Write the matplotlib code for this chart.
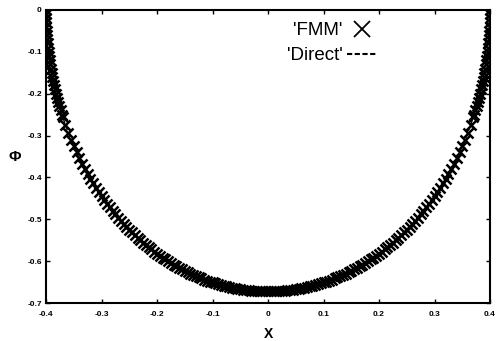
import matplotlib
matplotlib.use("Agg")
import matplotlib.pyplot as plt
from matplotlib.lines import Line2D

# Values (right half; curve is symmetric about x = 0)
x_half = [0.000, 0.005, 0.010, 0.015, 0.020, 0.025, 0.030, 0.035, 0.040, 0.045,
          0.050, 0.055, 0.060, 0.065, 0.070, 0.075, 0.080, 0.085, 0.090, 0.095,
          0.100, 0.105, 0.110, 0.115, 0.120, 0.125, 0.130, 0.135, 0.140, 0.145,
          0.150, 0.155, 0.160, 0.165, 0.170, 0.175, 0.180, 0.185, 0.190, 0.195,
          0.200, 0.205, 0.210, 0.215, 0.220, 0.225, 0.230, 0.235, 0.240, 0.245,
          0.250, 0.255, 0.260, 0.265, 0.270, 0.275, 0.280, 0.285, 0.290, 0.295,
          0.300, 0.305, 0.310, 0.315, 0.320, 0.325, 0.330, 0.335, 0.340, 0.345,
          0.350, 0.355, 0.360, 0.365, 0.370,
          0.3713, 0.3736, 0.3758, 0.3780, 0.3800, 0.3819, 0.3837, 0.3854, 0.3870, 0.3885,
          0.3899, 0.3912, 0.3924, 0.3936, 0.3946, 0.3955, 0.3964, 0.3972, 0.3978, 0.3984,
          0.3989, 0.3993, 0.3996, 0.3998, 0.39996, 0.4000]
phi_half = [-0.6720, -0.6719, -0.6718, -0.6715, -0.6712, -0.6707, -0.6701, -0.6694, -0.6686, -0.6677,
            -0.6667, -0.6656, -0.6644, -0.6631, -0.6616, -0.6601, -0.6584, -0.6567, -0.6548, -0.6528,
            -0.6507, -0.6484, -0.6461, -0.6436, -0.6410, -0.6383, -0.6355, -0.6326, -0.6295, -0.6263,
            -0.6230, -0.6195, -0.6159, -0.6122, -0.6083, -0.6043, -0.6001, -0.5958, -0.5914, -0.5867,
            -0.5820, -0.5770, -0.5719, -0.5667, -0.5612, -0.5556, -0.5498, -0.5438, -0.5376, -0.5312,
            -0.5246, -0.5177, -0.5107, -0.5034, -0.4958, -0.4880, -0.4799, -0.4715, -0.4628, -0.4538,
            -0.4445, -0.4348, -0.4247, -0.4142, -0.4032, -0.3917, -0.3798, -0.3672, -0.3540, -0.3401,
            -0.3253, -0.3097, -0.2929, -0.2749, -0.2553,
            -0.25, -0.24, -0.23, -0.22, -0.21, -0.20, -0.19, -0.18, -0.17, -0.16,
            -0.15, -0.14, -0.13, -0.12, -0.11, -0.10, -0.09, -0.08, -0.07, -0.06,
            -0.05, -0.04, -0.03, -0.02, -0.01, 0.0]

x_vals = [-v for v in x_half[::-1]] + x_half[1:]
phi_vals = phi_half[::-1] + phi_half[1:]

xticks = [-0.4, -0.3, -0.2, -0.1, 0, 0.1, 0.2, 0.3, 0.4]
xtick_labels = ["-0.4", "-0.3", "-0.2", "-0.1", "0", "0.1", "0.2", "0.3", "0.4"]
yticks = [0, -0.1, -0.2, -0.3, -0.4, -0.5, -0.6, -0.7]
ytick_labels = ["0", "-0.1", "-0.2", "-0.3", "-0.4", "-0.5", "-0.6", "-0.7"]
legend_labels = ["'FMM'", "'Direct'"]

plt.rcParams['font.family'] = ['Liberation Sans', 'DejaVu Sans']

fig = plt.figure(figsize=(4.98, 3.41), dpi=100)
ax = fig.add_axes([0.0924, 0.111, 0.8916, 0.860])

ax.plot(x_vals, phi_vals, ls='--', color='k', lw=1.0)
ax.plot(x_vals, phi_vals, ls='none', marker='x', ms=7, mew=1.8, color='k')

ax.set_xlim(-0.4, 0.4)
ax.set_ylim(-0.7, 0)
ax.set_xticks(xticks)
ax.set_xticklabels(xtick_labels)
ax.set_yticks(yticks)
ax.set_yticklabels(ytick_labels)
ax.tick_params(direction='in', length=3, width=1, top=True, right=True,
               labelsize=6)
ax.tick_params(axis='x', pad=6)
ax.tick_params(axis='y', pad=3)
for lab in ax.get_xticklabels() + ax.get_yticklabels():
    lab.set_fontweight('bold')
for sp in ax.spines.values():
    sp.set_linewidth(1.5)

ax.set_xlabel('X', fontsize=10, fontweight='bold', labelpad=6)
ax.set_ylabel('Φ', fontsize=11, fontweight='bold', rotation=0, labelpad=9,
              va='center')

handles = [Line2D([], [], ls='none', marker='x', ms=12, mew=1.3, color='k'),
           Line2D([], [], ls='--', color='k', lw=1.5, dashes=(2.5, 1.2))]
leg = ax.legend(handles, legend_labels, loc='upper left',
                bbox_to_anchor=(0.543, 0.958), frameon=False, markerfirst=False,
                fontsize=13.5, handlelength=1.6, handletextpad=0.2, labelspacing=0.42,
                borderpad=0, borderaxespad=0)

fig.savefig('out.png', dpi=100)
